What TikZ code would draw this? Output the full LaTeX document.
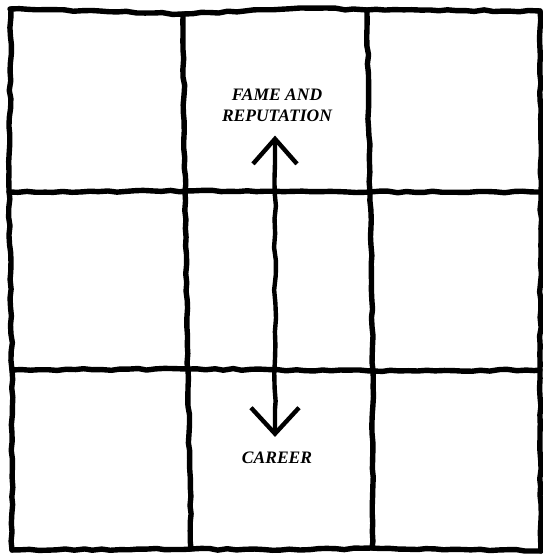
\documentclass[tikz,border=0pt]{standalone}
\usepackage{fontspec}
\setmainfont{Liberation Serif}
\usepackage{tikz}
\usetikzlibrary{arrows.meta,positioning,decorations.pathmorphing}
\tikzset{
  handln/.style={line width=5.4pt,line cap=round,line join=round,
    decorate,decoration={random steps,segment length=9pt,amplitude=0.9pt}},
  arrln/.style={line width=4.4pt,line cap=round,line join=round,
    {Straight Barb[length=25pt,width=44pt,line width=4.4pt]}-{Straight Barb[length=26pt,width=48pt,line width=4.4pt]},
    decorate,decoration={random steps,segment length=14pt,amplitude=1.1pt,pre length=28pt,post length=28pt}},
  arealab/.style={font=\fontsize{17.5}{21}\selectfont\bfseries\itshape,align=center,inner sep=2pt},
}
\begin{document}
\begin{tikzpicture}[x=1pt,y=-1pt]
        \pgfmathsetseed{4242}
        \useasboundingbox (0,0) rectangle (543,555);
        % --- rama ---
        \draw[handln] (10,9) -- (100,11) -- (183,14) -- (300,8) -- (367,10) -- (540,11);
        \draw[handln] (11,9) -- (9,190) -- (12,370) -- (12,550);
        \draw[handln] (540,11) -- (541,192) -- (540,370) -- (541,551);
        \draw[handln] (12,550) -- (191,549) -- (300,550) -- (372,548) -- (541,551);
        % --- ichki chiziqlar ---
        \draw[handln] (183,14) -- (185,192) -- (188,370) -- (191,549);
        \draw[handln] (367,10) -- (370,192) -- (373,370) -- (372,548);
        \draw[handln] (9,192) -- (185,191) -- (370,192) -- (541,192);
        \draw[handln] (12,370) -- (188,369) -- (373,371) -- (540,370);
        % --- yozuvlar ---
        \node[arealab] (fame) at (277,105) {FAME AND\\REPUTATION};
        \node[arealab] (career) at (277,458) {CAREER};
        % strelka
        \path ([xshift=-2pt]fame.south) ++(0,12) coordinate (fameTip)
          ([xshift=-2pt]career.north) ++(0,-13) coordinate (careerTip);
        \draw[arrln] (fameTip) -- (careerTip);
\end{tikzpicture}
\end{document}
